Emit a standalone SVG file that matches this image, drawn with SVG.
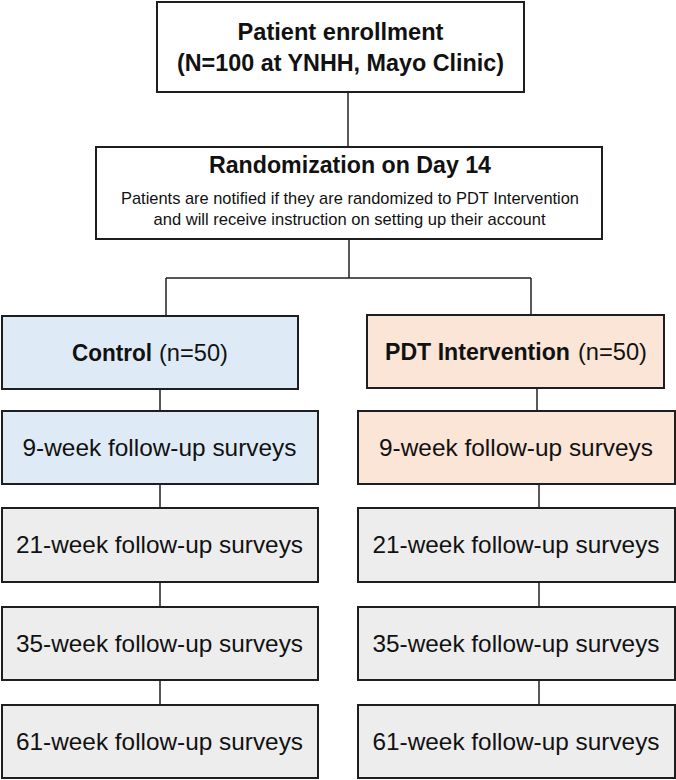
<svg xmlns="http://www.w3.org/2000/svg" width="676" height="780" viewBox="0 0 676 780">
<style>
.box{stroke:#1e1e1e;stroke-width:2}
.w{fill:#fff}.b{fill:#DEEBF7}.o{fill:#FBE5D6}.g{fill:#EDEDED}
text{font-family:"Liberation Sans",Arial,sans-serif;fill:#111}
.t{font-size:23px;font-weight:bold}
.s{font-size:17px}
.m{font-size:24.5px}
.bd{font-weight:bold}
.c{stroke:#222;stroke-width:1.5;fill:none}
</style>
<rect width="676" height="780" fill="#fff"/>
<g id="connectors">
<path class="c" d="M348 92V147M349 239V278M166 278H531M166 278V316M531 278V315"/>
<path class="c" d="M160 389V411M160 484V508M160 582V607M160 680V705"/>
<path class="c" d="M537 388V411M539 484V508M539 582V607M539 680V705"/>
</g>
<g id="enrollment">
<rect class="box w" x="157" y="2" width="367" height="90"/>
<text class="t" x="340.5" y="40" text-anchor="middle" textLength="206" lengthAdjust="spacingAndGlyphs">Patient enrollment</text>
<text class="t" x="340.5" y="71" text-anchor="middle" textLength="327" lengthAdjust="spacingAndGlyphs">(N=100 at YNHH, Mayo Clinic)</text>
</g>
<g id="randomization">
<rect class="box w" x="96" y="147" width="506" height="92"/>
<text class="t" x="350" y="173" text-anchor="middle" textLength="282" lengthAdjust="spacingAndGlyphs">Randomization on Day 14</text>
<text class="s" x="350" y="204" text-anchor="middle" textLength="458" lengthAdjust="spacingAndGlyphs">Patients are notified if they are randomized to PDT Intervention</text>
<text class="s" x="349.5" y="225" text-anchor="middle" textLength="392" lengthAdjust="spacingAndGlyphs">and will receive instruction on setting up their account</text>
</g>
<g id="control">
<rect class="box b" x="2" y="316" width="296" height="73"/>
<text class="m" y="361"><tspan class="bd" x="72" textLength="80" lengthAdjust="spacingAndGlyphs">Control</tspan><tspan x="159" textLength="69" lengthAdjust="spacingAndGlyphs">(n=50)</tspan></text>
</g>
<g id="pdt">
<rect class="box o" x="367" y="315" width="297" height="73"/>
<text class="m" y="360"><tspan class="bd" x="385" textLength="185" lengthAdjust="spacingAndGlyphs">PDT Intervention</tspan><tspan x="578" textLength="69" lengthAdjust="spacingAndGlyphs">(n=50)</tspan></text>
</g>
<g id="control-9">
<rect class="box b" x="2" y="411" width="316" height="73"/>
<text class="m" x="159.5" y="456" text-anchor="middle" textLength="274" lengthAdjust="spacingAndGlyphs">9-week follow-up surveys</text>
</g>
<g id="pdt-9">
<rect class="box o" x="358" y="411" width="317" height="73"/>
<text class="m" x="516" y="456" text-anchor="middle" textLength="274" lengthAdjust="spacingAndGlyphs">9-week follow-up surveys</text>
</g>
<g id="control-21">
<rect class="box g" x="2" y="508" width="316" height="74"/>
<text class="m" x="159.5" y="553" text-anchor="middle" textLength="287" lengthAdjust="spacingAndGlyphs">21-week follow-up surveys</text>
</g>
<g id="pdt-21">
<rect class="box g" x="358" y="508" width="317" height="74"/>
<text class="m" x="516" y="553" text-anchor="middle" textLength="287" lengthAdjust="spacingAndGlyphs">21-week follow-up surveys</text>
</g>
<g id="control-35">
<rect class="box g" x="2" y="607" width="316" height="73"/>
<text class="m" x="159.5" y="652" text-anchor="middle" textLength="287" lengthAdjust="spacingAndGlyphs">35-week follow-up surveys</text>
</g>
<g id="pdt-35">
<rect class="box g" x="358" y="607" width="317" height="73"/>
<text class="m" x="516" y="652" text-anchor="middle" textLength="287" lengthAdjust="spacingAndGlyphs">35-week follow-up surveys</text>
</g>
<g id="control-61">
<rect class="box g" x="2" y="705" width="316" height="73"/>
<text class="m" x="159.5" y="750" text-anchor="middle" textLength="287" lengthAdjust="spacingAndGlyphs">61-week follow-up surveys</text>
</g>
<g id="pdt-61">
<rect class="box g" x="358" y="705" width="317" height="73"/>
<text class="m" x="516" y="750" text-anchor="middle" textLength="287" lengthAdjust="spacingAndGlyphs">61-week follow-up surveys</text>
</g>
</svg>
